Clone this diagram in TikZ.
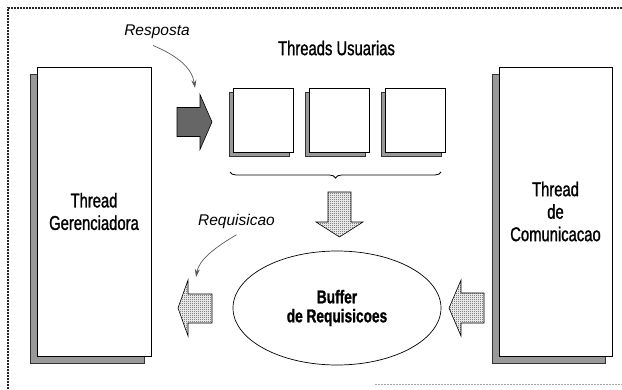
\documentclass[tikz,border=0pt]{standalone}
\usepackage{fontspec}
\setmainfont{Liberation Sans}
\newfontfamily\narrowfont{Liberation Sans}[FakeStretch=0.74,FakeBold=1.2]
\usetikzlibrary{shapes.geometric,shadows,patterns,arrows.meta,decorations.pathreplacing}
% checkered stipple as in the printed figure
\pgfdeclarepatternformonly{stipple}{\pgfpointorigin}{\pgfpoint{2pt}{2pt}}{\pgfpoint{2pt}{2pt}}{%
  \pgfpathrectangle{\pgfpointorigin}{\pgfpoint{1pt}{1pt}}%
  \pgfpathrectangle{\pgfpoint{1pt}{1pt}}{\pgfpoint{1pt}{1pt}}%
  \pgfusepath{fill}}
\tikzset{
  bigbox/.style={draw,fill=white,line width=0.8pt,inner sep=0pt,align=center,
    font=\narrowfont\fontsize{20}{22.5}\selectfont,
    drop shadow={shadow xshift=-7pt,shadow yshift=-7pt,opacity=1,
      fill=black!40,draw=black!80,line width=0.4pt}},
  userbox/.style={draw,fill=white,line width=0.7pt,minimum width=60pt,minimum height=64pt,
    drop shadow={shadow xshift=-4pt,shadow yshift=-4pt,opacity=1,
      fill=black!40,draw=black!80,line width=0.4pt}},
  tag/.style={font=\itshape\fontsize{15.5}{18}\selectfont}
}

\begin{document}
\begin{tikzpicture}[x=1pt,y=-1pt]
    % Local styling definitions
    \tikzset{>={Stealth[length=8pt,width=5pt]}}

    % Color definitions
    \colorlet{framecol}{black!85}
    \colorlet{curvecol}{black!65}

    % TikZ style definitions
    \tikzstyle{frameline} =[framecol,line width=1.6pt,dash pattern=on 1.6pt off 1.4pt]
    \tikzstyle{curve}     =[->,curvecol,line width=0.7pt]
    \tikzstyle{lightarrow}=[draw,line width=0.6pt,pattern=stipple,pattern color=black!75]
    \tikzstyle{darkarrow} =[draw,line width=0.6pt,fill=black!60]

    \useasboundingbox (0,0) rectangle (622,389);

    % Dotted frame
    \draw[frameline] (8,389) -- (8,8) -- (622,8);
    \draw[black!35,line width=0.8pt,dash pattern=on 1.5pt off 1.5pt] (375,384) -- (622,384);

    % Threads
    \node[bigbox,minimum width=114pt,minimum height=289pt] (manager) at (94,211.5)
      {Thread\\Gerenciadora};
    \node[bigbox,minimum width=113pt,minimum height=289pt] (comm) at (555.5,211.5)
      {Thread\\de\\Comunicacao};

    % User threads
    \node[font=\narrowfont\fontsize{20}{22}\selectfont] (users) at (336.5,48) {Threads Usuarias};
    \node[userbox] (u1) at (263,120) {};
    \node[userbox] (u2) at (339,120) {};
    \node[userbox] (u3) at (415.5,120) {};
    \draw[line width=0.8pt,decorate,decoration={brace,mirror,amplitude=6pt}]
      (230,172) -- (441,172);

    % Buffer
    \node[ellipse,draw,line width=0.7pt,minimum width=208pt,minimum height=114pt,inner sep=0pt,
      align=center,font=\narrowfont\bfseries\fontsize{18.5}{19}\selectfont] (buffer) at (337,308)
      {Buffer\\de Requisicoes};

    % Block arrows
    \draw[darkarrow] (177,107.5) -- (200,107.5) -- (200,94.5) -- (212,122)
      -- (200,149.5) -- (200,136.5) -- (177,136.5) -- cycle;
    \draw[lightarrow] (328,192) -- (351,192) -- (351,222) -- (363,222)
      -- (339.5,237) -- (316,222) -- (328,222) -- cycle;
    \draw[lightarrow] (178,308) -- (188,280) -- (188,294) -- (212,294)
      -- (212,323) -- (188,323) -- (188,336) -- cycle;
    \draw[lightarrow] (449,308) -- (461,280) -- (461,293) -- (484,293)
      -- (484,323) -- (461,323) -- (461,336) -- cycle;
    \coordinate (resptip) at (195,88);
    \coordinate (reqtip) at (196,277);

    % Labels and curved pointers
    \node[tag] (resp) at (157,32) {Resposta};
    \node[tag] (req) at (236.5,221) {Requisicao};
    \draw[curve] ([xshift=-4pt,yshift=-3pt]resp.south) .. controls (178,56) and (192,68) .. (resptip);
    \draw[curve] ([yshift=-3pt]req.south) .. controls (214,248) and (199,260) .. (reqtip);

\end{tikzpicture}
\end{document}
